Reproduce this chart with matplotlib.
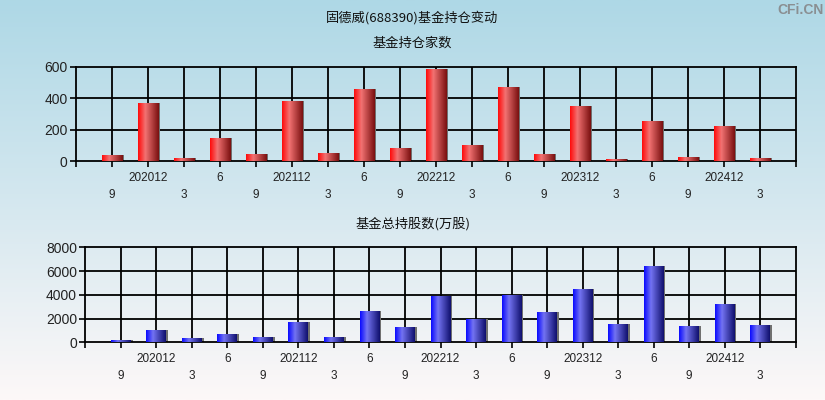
import numpy as np
import matplotlib
matplotlib.use("Agg")
import matplotlib.pyplot as plt
from matplotlib.colors import LinearSegmentedColormap

plt.rcParams['font.family'] = ['Liberation Sans', 'Noto Sans CJK SC', 'DejaVu Sans']

# data
quarter_labels = ["9", "202012", "3", "6", "9", "202112", "3", "6", "9", "202212",
                  "3", "6", "9", "202312", "3", "6", "9", "202412", "3"]
fund_count = [40, 370, 21, 148, 46, 382, 53, 458, 85, 585,
              104, 471, 46, 351, 15, 256, 27, 224, 21]
fund_shares = [196, 1039, 365, 702, 449, 1712, 449, 2639, 1291, 3902,
               1993, 4014, 2554, 4491, 1544, 6428, 1375, 3228, 1460]

title = "固德威(688390)基金持仓变动"
sub_top = "基金持仓家数"
sub_bottom = "基金总持股数(万股)"

fig = plt.figure(figsize=(8.25, 4), dpi=100)

# background gradient
bg = fig.add_axes([0, 0, 1, 1], zorder=-10)
bg_cmap = LinearSegmentedColormap.from_list(
    "bg", [(0.0, "#fdf8f8"), (0.45, "#d8e9f0"), (1.0, "#aed8e6")])
bg.imshow(np.linspace(0, 1, 256).reshape(-1, 1), cmap=bg_cmap, aspect="auto",
          origin="lower", extent=[0, 1, 0, 1])
bg.set_axis_off()

red_cmap = LinearSegmentedColormap.from_list(
    "red", [(0, "#ff0a0a"), (0.35, "#f27272"), (1, "#7a1010")])
blue_cmap = LinearSegmentedColormap.from_list(
    "blue", [(0, "#0a0aff"), (0.35, "#7373f2"), (1, "#10106e")])


def draw_panel(ax, values, cmap, ymax, ystep):
    x = np.arange(len(values))
    w = 0.56
    # shadow
    ax.bar(x + 0.05, values, width=w, color="#707070", zorder=2)
    bars = ax.bar(x, values, width=w, color="none", zorder=3)
    grad = np.linspace(0, 1, 64).reshape(1, -1)
    for b in bars:
        x0, y0 = b.get_x(), b.get_y()
        im = ax.imshow(grad, cmap=cmap, aspect="auto", zorder=3,
                       extent=[x0, x0 + b.get_width(), y0, y0 + b.get_height()])
        im.set_clip_path(b)
    ax.set_xlim(-1, len(values))
    ax.set_ylim(0, ymax)
    ax.set_facecolor("none")
    for xv in x:
        ax.axvline(xv, color="black", lw=1.3, zorder=1)
    for yv in np.arange(ystep, ymax, ystep):
        ax.axhline(yv, color="black", lw=1.3, zorder=1)
    for s in ax.spines.values():
        s.set_linewidth(1.3)
    ax.set_yticks(np.arange(0, ymax + 1, ystep))
    ax.tick_params(axis="y", length=4, width=1.2, labelsize=10, pad=2,
                   labelcolor="#222222")
    ax.set_xticks(np.arange(-1, len(values) + 1))
    labels = [""]
    for i, lab in enumerate(quarter_labels):
        labels.append(("\n" + lab) if i % 2 == 0 else (lab + "\n"))
    labels.append("")
    ax.set_xticklabels(labels, fontsize=8.5, linespacing=1.55,
                       color="#222222")
    ax.tick_params(axis="x", length=4, width=1.2, pad=4)


ax1 = fig.add_axes([76 / 825, 1 - 161.3 / 400, 720 / 825, 94.6 / 400])
draw_panel(ax1, fund_count, red_cmap, 600, 200)

ax2 = fig.add_axes([85.3 / 825, 1 - 342.3 / 400, 710.4 / 825, 95 / 400])
draw_panel(ax2, fund_shares, blue_cmap, 8000, 2000)

cjk = ['Noto Sans CJK SC', 'DejaVu Sans']
fig.text(0.5, 1 - 18 / 400, title, ha="center", va="center", fontsize=9.5,
         family=cjk, color="#111111")
fig.text(0.5, 1 - 43 / 400, sub_top, ha="center", va="center", fontsize=9.5,
         family=cjk, color="#111111")
fig.text(0.5, 1 - 224 / 400, sub_bottom, ha="center", va="center", fontsize=9.5,
         family=cjk, color="#111111")
fig.text(800 / 825, 1 - 10 / 400, "CFi.CN", ha="center", va="center",
         fontsize=10, fontweight="bold", color="#8a8f92")

fig.savefig("out.png", dpi=100)
